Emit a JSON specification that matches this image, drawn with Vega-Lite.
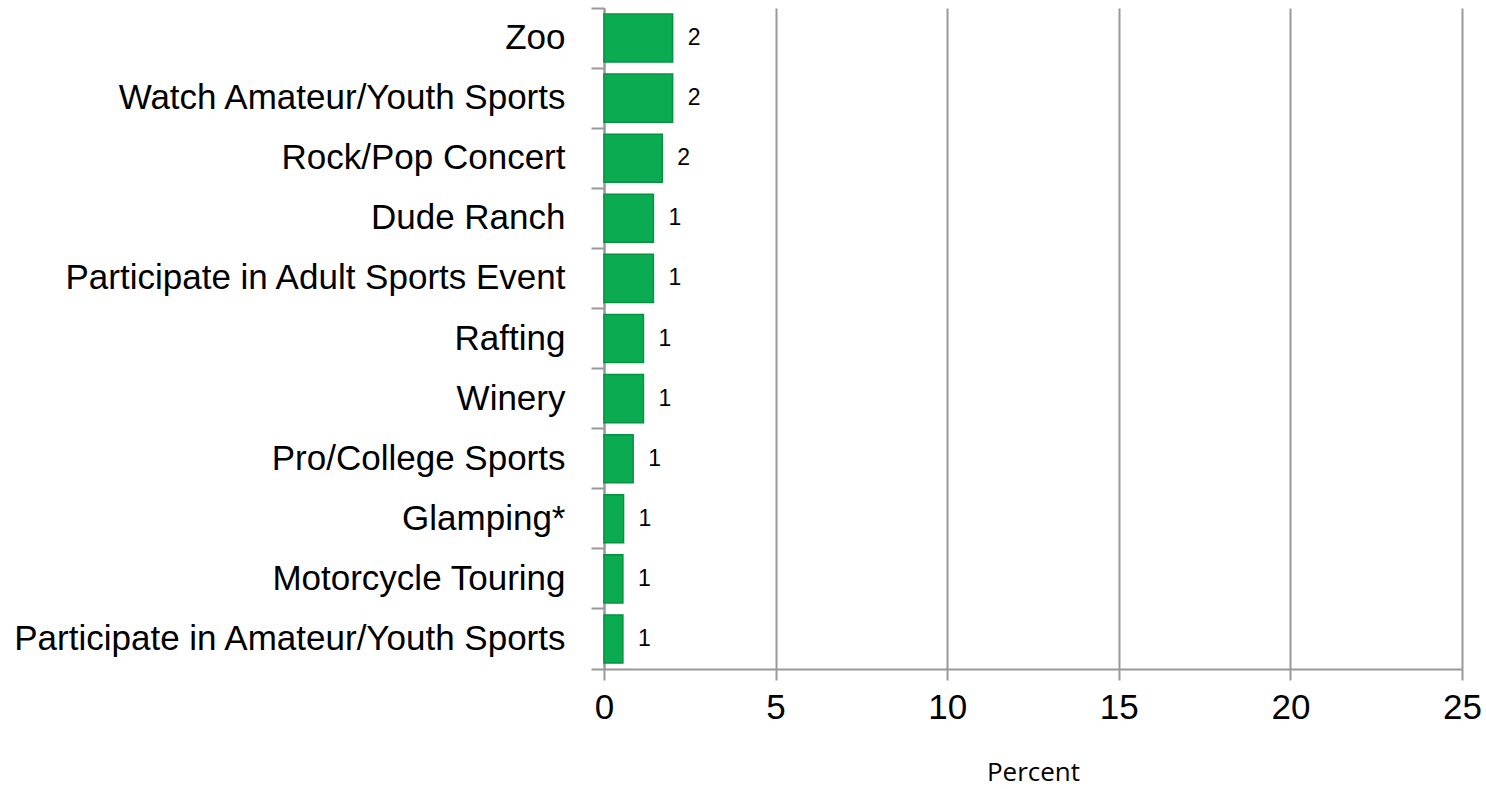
{
  "$schema": "https://vega.github.io/schema/vega-lite/v6.json",
  "width": 858,
  "height": 661,
  "autosize": "none",
  "padding": {"left": 604, "top": 8, "right": 24, "bottom": 120},
  "background": "white",
  "config": {"view": {"stroke": null}},
  "data": {
    "values": [
      {"activity": "Zoo", "percent": 2.0},
      {"activity": "Watch Amateur/Youth Sports", "percent": 2.0},
      {"activity": "Rock/Pop Concert", "percent": 1.7},
      {"activity": "Dude Ranch", "percent": 1.44},
      {"activity": "Participate in Adult Sports Event", "percent": 1.44},
      {"activity": "Rafting", "percent": 1.15},
      {"activity": "Winery", "percent": 1.15},
      {"activity": "Pro/College Sports", "percent": 0.85},
      {"activity": "Glamping*", "percent": 0.57},
      {"activity": "Motorcycle Touring", "percent": 0.55},
      {"activity": "Participate in Amateur/Youth Sports", "percent": 0.55}
    ]
  },
  "encoding": {
    "y": {
      "field": "activity",
      "type": "nominal",
      "sort": null,
      "scale": {"paddingInner": 0, "paddingOuter": 0},
      "axis": {
        "title": null,
        "bandPosition": 1,
        "tickExtra": true,
        "tickSize": 13,
        "tickColor": "#999999",
        "tickWidth": 2,
        "domainColor": "#999999",
        "domainWidth": 2,
        "labelFont": "Liberation Sans",
        "labelFontSize": 35,
        "labelColor": "#000000",
        "labelPadding": 26,
        "labelLimit": 700
      }
    },
    "x": {
      "field": "percent",
      "type": "quantitative",
      "scale": {"domain": [0, 25], "nice": false},
      "axis": {
        "values": [0, 5, 10, 15, 20, 25],
        "title": "Percent",
        "titleFont": "Open Sans",
        "titleFontSize": 26,
        "titleFontWeight": "normal",
        "titleColor": "#000000",
        "titlePadding": 34,
        "grid": true,
        "gridColor": "#999999",
        "gridWidth": 2,
        "domainColor": "#999999",
        "domainWidth": 2,
        "tickColor": "#999999",
        "tickWidth": 2,
        "tickSize": 11,
        "labelFont": "Liberation Sans",
        "labelFontSize": 35,
        "labelColor": "#000000",
        "labelPadding": 10,
        "labelFlush": false
      }
    }
  },
  "layer": [
    {
      "mark": {"type": "bar", "height": {"band": 0.8}, "fill": "#0BAB52", "stroke": "#07923F", "strokeWidth": 1.5}
    },
    {
      "mark": {"type": "text", "align": "left", "baseline": "middle", "dx": 15, "font": "Liberation Sans", "fontSize": 23, "color": "#000000"},
      "encoding": {
        "text": {"field": "percent", "type": "quantitative", "format": ".0f"}
      }
    }
  ]
}
